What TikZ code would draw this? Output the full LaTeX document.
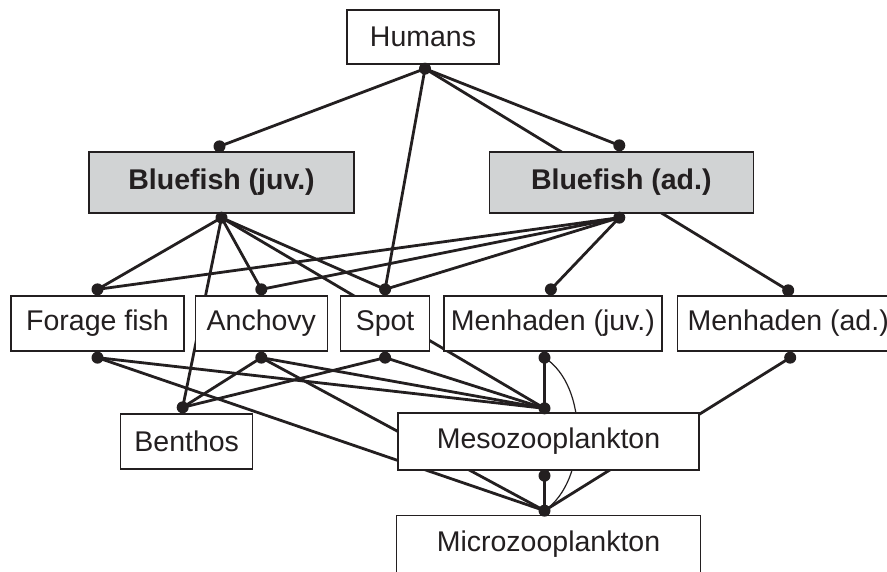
\documentclass[tikz,border=0pt]{standalone}
\usepackage{fontspec}
\setmainfont{Liberation Sans}
\usetikzlibrary{positioning,calc,backgrounds}
\definecolor{inkblack}{RGB}{35,31,32}
\definecolor{fishgray}{RGB}{209,211,212}

\begin{document}
\begin{tikzpicture}[x=1pt,y=-1pt,
  box/.style={rectangle, draw=inkblack, line width=1.3pt, fill=white, text=inkblack, inner sep=2pt, minimum height=55pt, font=\fontsize{28.5}{32}\selectfont},
  fishbox/.style={box, fill=fishgray, minimum height=61pt, minimum width=264pt, font=\fontsize{28.5}{32}\selectfont\bfseries},
  link/.style={inkblack, line width=2.8pt},
  thinlink/.style={inkblack, line width=1.2pt}]
				\useasboundingbox (0,0) rectangle (887,571);
				\clip (0,0) rectangle (887,571);
				
				% Top
				\node[box, minimum width=152pt, minimum height=54pt] (humans) at (423,37) {Humans};
				\node[fishbox, minimum width=265pt] (bjuv) at (221.5,182.5) {Bluefish (juv.)};
				\node[fishbox, right=134pt of bjuv] (bad) {Bluefish (ad.)};
				
				% Middle row
				\node[box, minimum width=173pt] (forage) at (97.5,323.5) {Forage fish};
				\node[box, minimum width=132pt, right=10pt of forage] (anchovy) {Anchovy};
				\node[box, minimum width=89pt, right=12pt of anchovy] (spot) {Spot};
				\node[box, minimum width=218pt, right=13pt of spot] (mjuv) {Menhaden (juv.)};
				\node[box, minimum width=222pt, right=14pt of mjuv] (mad) {Menhaden (ad.)};
				
				% Bottom
				\node[box, minimum width=301pt, minimum height=57pt] (meso) at (548.5,441.5) {Mesozooplankton};
				\node[box, minimum width=132pt, left=144pt of meso] (benthos) {Benthos};
				\node[box, minimum width=304pt, minimum height=58pt, below=44pt of meso] (micro) {Microzooplankton};
				
				% dots
				\coordinate (humB) at ([yshift=-4pt,xshift=2pt]humans.south);
				\coordinate (bjuvT) at ([yshift=5pt,xshift=-2pt]bjuv.north);
				\coordinate (bjuvB) at ([yshift=-4pt]bjuv.south);
				\coordinate (badT) at ([yshift=6pt,xshift=-2pt]bad.north);
				\coordinate (badB) at ([yshift=-4pt,xshift=-2pt]bad.south);
				\foreach \n in {forage,anchovy,spot} {
					\coordinate (\n T) at ([yshift=6pt]\n.north);
					\coordinate (\n B) at ([yshift=-6pt]\n.south);
				}
				\coordinate (madT) at ([yshift=5pt]mad.north);
				\coordinate (madB) at ([yshift=-6pt,xshift=2pt]mad.south);
				\coordinate (mesoT) at ([yshift=4pt,xshift=-4pt]meso.north);
				\coordinate (mesoB) at ([yshift=-5pt]mesoT |- meso.south);
				\coordinate (microT) at ([yshift=4pt]mesoT |- micro.north);
				\coordinate (mjuvT) at ([yshift=6pt,xshift=-2pt]mjuv.north);
				\coordinate (mjuvB) at ([yshift=-6pt]mesoT |- mjuv.south);
				\coordinate (benthosT) at ([yshift=6pt,xshift=-4pt]benthos.north);
				
				\begin{scope}[on background layer]
					\foreach \a/\b in {humB/bjuvT, humB/badT, humB/spotT, humB/madT,
						bjuvB/forageT, bjuvB/benthosT, bjuvB/anchovyT, bjuvB/mesoT, bjuvB/spotT,
						badB/forageT, badB/anchovyT, badB/spotT, badB/mjuvT,
						forageB/mesoT, forageB/microT,
						anchovyB/benthosT, anchovyB/mesoT, anchovyB/microT,
						spotB/benthosT, spotB/mesoT,
						mjuvB/mesoT, madB/microT, mesoB/microT}
						\draw[link] (\a) -- (\b);
					\draw[thinlink] (mjuvB) .. controls +(44,28) and +(44,-30) .. (microT);
				\end{scope}
				
				\foreach \p in {humB,bjuvT,bjuvB,badT,badB,forageT,forageB,anchovyT,anchovyB,spotT,spotB,mjuvT,mjuvB,madT,madB,benthosT,mesoT,mesoB,microT}
					\fill[inkblack] (\p) circle (6);
			\end{tikzpicture}
\end{document}
